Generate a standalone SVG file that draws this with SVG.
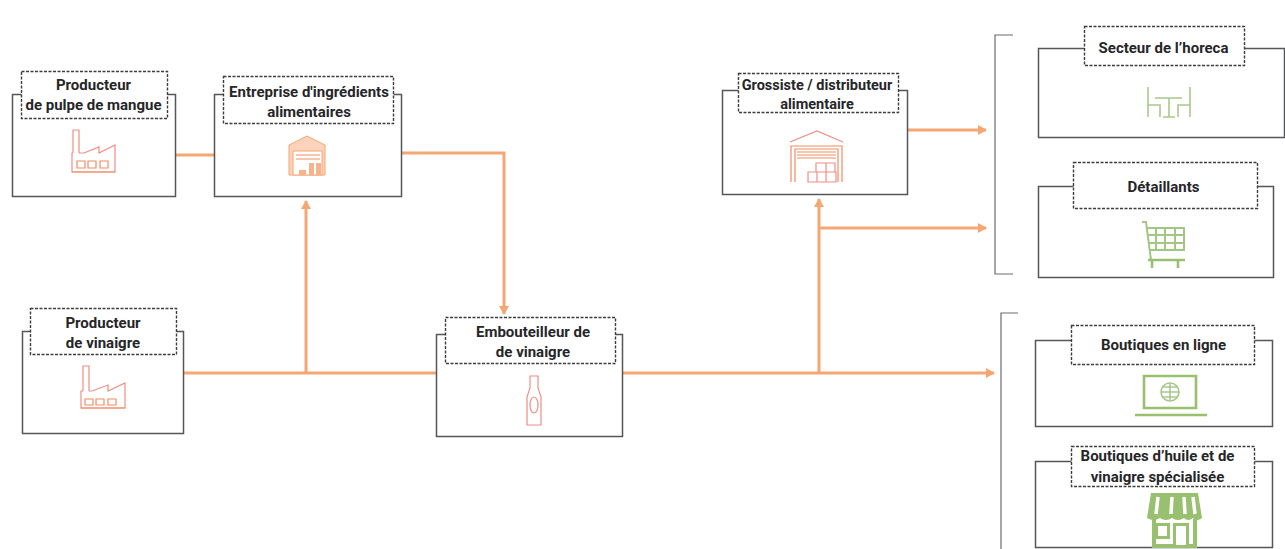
<svg xmlns="http://www.w3.org/2000/svg" width="1285" height="549" viewBox="0 0 1285 549">
<style>
.box{fill:#fff;stroke:#55565a;stroke-width:1.5}
.lab{fill:#fff;stroke:#3c3c3e;stroke-width:1.4;stroke-dasharray:3 1.5}
text{font-family:Roboto,"Liberation Sans",sans-serif;font-weight:700;font-size:15px;fill:#262628;text-anchor:middle}
text.s{font-size:14.5px}
.c{fill:none;stroke:#f4a673;stroke-width:3}
.o{fill:none;stroke:#f28c63;stroke-width:1.2}
.r{fill:none;stroke:#ee8f86;stroke-width:1.2}
.g{fill:none;stroke:#a9c98a;stroke-width:1.6}
.gm{fill:none;stroke:#a3c782;stroke-width:2}
.gg{fill:none;stroke:#98c06e;stroke-width:2.6}
.br{fill:none;stroke:#6b6c6e;stroke-width:1.2}
</style>
<defs>
<marker id="a" markerUnits="userSpaceOnUse" markerWidth="11" markerHeight="11" refX="9" refY="5.5" orient="auto"><path d="M1 .5L10 5.5L1 10.5Z" fill="#f4a673"/></marker>
</defs>
<rect width="1285" height="549" fill="#fff"/>
<g id="connectors">
<path class="c" d="M175 155H214"/>
<path class="c" d="M401 153H504V314" marker-end="url(#a)"/>
<path class="c" d="M184 373H436" />
<path class="c" d="M306 373V201" marker-end="url(#a)"/>
<path class="c" d="M622 373H994" marker-end="url(#a)"/>
<path class="c" d="M819 373V199" marker-end="url(#a)"/>
<path class="c" d="M819 228H986" marker-end="url(#a)"/>
<path class="c" d="M907 130H986" marker-end="url(#a)"/>
</g>
<g id="brackets">
<path class="br" d="M1013 35H995V274H1013"/>
<path class="br" d="M1018 313H1001V549"/>
</g>
<g id="n-pulpe">
<rect class="box" x="12.500" y="94.500" width="163" height="102"/>
<rect class="lab" x="21.500" y="71.500" width="146" height="47"/>
<text x="93.500" y="89.500">Producteur</text>
<text x="93.500" y="109.500">de pulpe de mangue</text>
<path class="r" d="M73 153V130H79V153M73 153H72V172H115V145L99 153V147L84 153H79"/>
<path class="o" d="M72 172H115M77 161h8v7h-8zM88 161h8v7h-8zM100 161h8v7h-8z"/>
</g>
<g id="n-ingredients">
<rect class="box" x="214.500" y="94.500" width="187" height="102"/>
<rect class="lab" x="223.500" y="76.500" width="170" height="47"/>
<text x="309" y="96.500">Entreprise d'ingrédients</text>
<text x="309" y="116.500">alimentaires</text>
<path d="M289 145L307 136L325 145V175H289Z" fill="#fbd3bb" stroke="#f4a673"/>
<path d="M293 151H322V175H293Z" fill="#fff" stroke="#f4a673"/>
<path d="M296 155H320M296 159H320" class="o"/>
<path d="M299 170h7v5h-7zM309 163h5v12h-5zM316 163h5v12h-5z" fill="#f6b48e"/>
</g>
<g id="n-vinaigre">
<rect class="box" x="22.500" y="331.500" width="161" height="102"/>
<rect class="lab" x="30.500" y="308.500" width="146" height="46"/>
<text x="103" y="327.500">Producteur</text>
<text x="103" y="347.500">de vinaigre</text>
<path class="r" d="M83 391V366H89V391M83 391H81V408H125V383L108 391V385L92 391H89"/>
<path class="o" d="M81 408H125M85 399h8v6h-8zM96 399h8v6h-8zM108 399h8v6h-8z"/>
</g>
<g id="n-embouteilleur">
<rect class="box" x="436.500" y="334.500" width="186" height="102"/>
<rect class="lab" x="445.500" y="317.500" width="170" height="46"/>
<text x="533" y="336.500">Embouteilleur de</text>
<text x="533" y="356.500">de vinaigre</text>
<path class="r" d="M530 376H538V388L541 397V425H527V397L530 388Z"/>
<ellipse class="r" cx="534" cy="405" rx="4" ry="8"/>
</g>
<g id="n-grossiste">
<rect class="box" x="722.500" y="90.500" width="185" height="104"/>
<rect class="lab" x="738.500" y="73.500" width="160" height="39"/>
<text class="s" x="817" y="89.500">Grossiste / distributeur</text>
<text class="s" x="817" y="108.500">alimentaire</text>
<path class="r" d="M790 142L817 131L843 142"/>
<path class="o" d="M791 182V146H842V182M795 182V149H838V182M797 152H836M797 155H836M797 158H836"/>
<path class="r" d="M816 172V163H835V172M826 163V182M808 172H836V182H808ZM817 172V182"/>
</g>
<g id="n-horeca">
<rect class="box" x="1038.500" y="48.500" width="246" height="89"/>
<rect class="lab" x="1084.500" y="26.500" width="160" height="39"/>
<text x="1163.500" y="52.500">Secteur de l’horeca</text>
<path class="g" d="M1148 87V117M1148 105H1160V117M1190 87V117M1190 105H1178V117M1155 98H1182M1169 98V117M1163 117H1175"/>
</g>
<g id="n-detaillants">
<rect class="box" x="1038.500" y="186.500" width="235" height="91"/>
<rect class="lab" x="1073.500" y="162.500" width="184" height="46"/>
<text x="1163.500" y="192">Détaillants</text>
<path class="gm" d="M1142 222H1146L1151 260M1147 228H1184V250H1149M1148 235H1184M1148 243H1184M1156 228V250M1165 228V250M1175 228V250"/>
<path class="gg" d="M1148 260H1185M1152 261V268M1178 261V268"/>
</g>
<g id="n-ligne">
<rect class="box" x="1035.500" y="340.500" width="237" height="86"/>
<rect class="lab" x="1071.500" y="325.500" width="183" height="39"/>
<text x="1163.500" y="350">Boutiques en ligne</text>
<path class="gg" d="M1144 376H1196V408H1144Z"/>
<path class="gg" d="M1135 415H1207"/>
<circle class="g" cx="1170" cy="392" r="9"/>
<path class="g" d="M1161 392H1179M1170 383V401M1163 387H1177M1163 397H1177"/>
</g>
<g id="n-specialisee">
<rect class="box" x="1035.500" y="461.500" width="237" height="86"/>
<rect class="lab" x="1071.500" y="446.500" width="183" height="40"/>
<text x="1157.500" y="461">Boutiques d’huile et de</text>
<text x="1157.500" y="481.500">vinaigre spécialisée</text>
<path d="M1151 493H1198L1202 518Q1197 522 1193 518Q1188 522 1184 518Q1178 522 1172 518Q1166 522 1160 518Q1154 522 1147 518Z" fill="#98c06e"/>
<path d="M1158 497L1156 514M1172 497L1171 514M1184 497L1185 514M1193 497L1195 514" stroke="#fff" stroke-width="3.500" fill="none"/>
<path d="M1154 519V546H1195V519" fill="none" stroke="#98c06e" stroke-width="4"/>
<rect x="1156.500" y="524.500" width="12" height="13" fill="#fff" stroke="#98c06e" stroke-width="3"/>
<rect x="1174.500" y="524.500" width="13" height="22" fill="#fff" stroke="#98c06e" stroke-width="3"/>
</g>
</svg>
